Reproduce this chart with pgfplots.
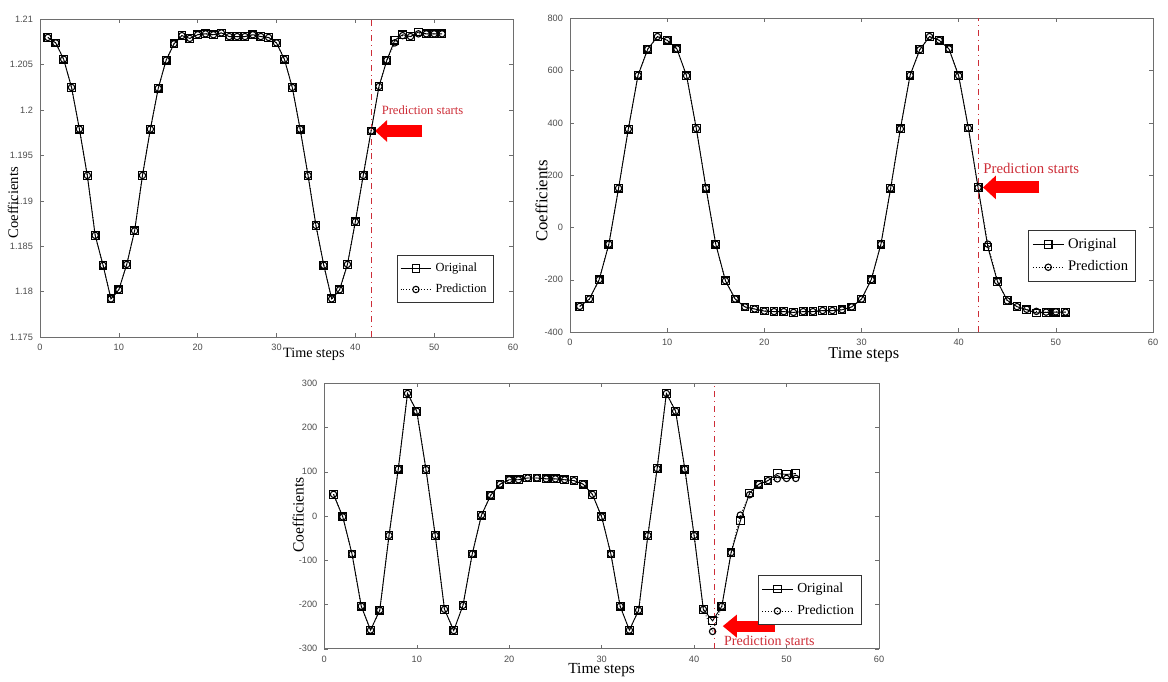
\documentclass[border=0pt]{standalone}
\usepackage{fontspec}
\setmainfont{Liberation Serif}
\newfontfamily\tickfont{Liberation Sans}
\usepackage{pgfplots}
\pgfplotsset{compat=1.18}
\usepackage{pgfplotstable}
\usetikzlibrary{arrows.meta}
\definecolor{predred}{RGB}{205,45,55}
\definecolor{axgray}{RGB}{110,110,110}

% time step, original, prediction
\pgfplotstableread{
t o p
1 1.2080 1.2080
2 1.2074 1.2074
3 1.2056 1.2056
4 1.2025 1.2025
5 1.1979 1.1979
6 1.1928 1.1928
7 1.1862 1.1862
8 1.1829 1.1829
9 1.1792 1.1792
10 1.1802 1.1802
11 1.1830 1.1830
12 1.1867 1.1867
13 1.1928 1.1928
14 1.1979 1.1979
15 1.2024 1.2024
16 1.2055 1.2055
17 1.2073 1.2073
18 1.2082 1.2082
19 1.2079 1.2079
20 1.2083 1.2083
21 1.2084 1.2084
22 1.2083 1.2083
23 1.2085 1.2085
24 1.2081 1.2081
25 1.2081 1.2081
26 1.2081 1.2081
27 1.2083 1.2083
28 1.2081 1.2081
29 1.2080 1.2080
30 1.2074 1.2074
31 1.2056 1.2056
32 1.2025 1.2025
33 1.1979 1.1979
34 1.1928 1.1928
35 1.1873 1.1873
36 1.1829 1.1829
37 1.1792 1.1792
38 1.1802 1.1802
39 1.1830 1.1830
40 1.1877 1.1877
41 1.1928 1.1928
42 1.1977 1.1977
43 1.2026 1.2026
44 1.2055 1.2055
45 1.2077 1.2074
46 1.2083 1.2082
47 1.2081 1.2081
48 1.2086 1.2084
49 1.2084 1.2084
50 1.2084 1.2084
51 1.2084 1.2084
}\dataA

\pgfplotstableread{
t o p
1 -302 -302
2 -274 -274
3 -200 -200
4 -64 -64
5 150 150
6 376 376
7 582 582
8 682 682
9 730 730
10 716 716
11 683 683
12 580 580
13 378 378
14 150 150
15 -64 -64
16 -204 -204
17 -274 -274
18 -304 -304
19 -312 -312
20 -320 -320
21 -322 -322
22 -322 -322
23 -325 -325
24 -322 -322
25 -322 -322
26 -318 -318
27 -318 -318
28 -315 -315
29 -304 -304
30 -274 -274
31 -200 -200
32 -64 -64
33 150 150
34 377 377
35 582 582
36 680 680
37 730 730
38 716 716
39 683 683
40 580 580
41 380 380
42 152 152
43 -75 -64
44 -208 -206
45 -279 -281
46 -303 -303
47 -315 -313
48 -327 -321
49 -325 -324
50 -324 -323
51 -324 -324
}\dataB

\pgfplotstableread{
t o p
1 49 49
2 -2 -2
3 -86 -86
4 -204 -204
5 -258 -258
6 -213 -213
7 -44 -44
8 106 106
9 277 277
10 237 237
11 105 105
12 -44 -44
13 -211 -211
14 -259 -259
15 -202 -202
16 -86 -86
17 2 2
18 47 47
19 72 72
20 82 82
21 82 82
22 86 86
23 86 86
24 84 84
25 84 84
26 82 82
27 80 80
28 72 72
29 49 49
30 -2 -2
31 -86 -86
32 -204 -204
33 -258 -258
34 -213 -213
35 -44 -44
36 107 107
37 277 277
38 237 237
39 106 106
40 -44 -44
41 -211 -211
42 -237 -261
43 -204 -204
44 -83 -83
45 -11 2
46 52 48
47 72 72
48 80 80
49 96 84
50 94 85
51 96 85
}\dataC

\pgfplotsset{
  mstyle/.style={
    scale only axis, xmin=0, xmax=60, xtick={0,10,...,60},
    axis line style={axgray}, tick style={axgray}, major tick length=2pt,
    minor tick num=0,
    tick label style={font=\tickfont\fontsize{4.6pt}{5.5pt}\selectfont, text=black!70},
    /pgf/number format/assume math mode=true,
    legend cell align=left,
    legend image code/.code={\draw[mark repeat=2,mark phase=2] plot coordinates {(0cm,0cm) (0.27cm,0cm) (0.54cm,0cm)};},
    xlabel={Time steps}, ylabel={Coefficients},
    label style={inner sep=0pt},
  },
  orig/.style={black, line width=0.45pt, mark=square, mark size=1.9pt, mark options={solid, line width=0.6pt}},
  pred/.style={black, densely dotted, line width=0.45pt, mark=o, mark size=1.6pt, mark options={solid, line width=0.55pt}},
}

\begin{document}
\begin{tikzpicture}
\useasboundingbox (0,0) rectangle (584pt,340.5pt);

% top left
\begin{axis}[mstyle, at={(20pt,172pt)}, anchor=south west,
  width=236.5pt, height=158.85pt,
  ymin=1.175, ymax=1.21, ytick={1.175,1.18,...,1.2101},
  yticklabel style={/pgf/number format/.cd, fixed, precision=3},
  xlabel style={font=\fontsize{7.1pt}{8pt}\selectfont, at={(axis description cs:0.579,0)}, anchor=north, yshift=-5.4pt},
  ylabel style={font=\fontsize{7.3pt}{8pt}\selectfont, at={(axis description cs:-0.057,0.423)}, anchor=center},
  legend style={draw=black!80, font=\fontsize{6.2pt}{7.4pt}\selectfont, at={(0.96,0.108)}, anchor=south east, inner sep=1.5pt, row sep=0.6pt},
]
\addplot[orig] table[x=t, y=o] {\dataA};
\addplot[pred] table[x=t, y=p] {\dataA};
\legend{Original, Prediction}
\draw[predred, dash dot, line width=0.4pt] (axis cs:42,1.175) -- (axis cs:42,1.21);
\draw[red, line width=6pt, -{Triangle[length=6pt,width=10.5pt]}] (axis cs:48.5,1.1977) -- (axis cs:42.5,1.1977);
\node[anchor=west, text=predred, inner sep=0pt, font=\fontsize{6.3pt}{7pt}\selectfont] at (axis cs:43.3,1.2000) {Prediction starts};
\node[anchor=south west, inner sep=0pt, text=black!70, font=\tickfont\fontsize{3.6pt}{4pt}\selectfont] at (axis description cs:0,1) [yshift=1.5pt] {x 10\textsuperscript{4}};
\end{axis}

% top right
\begin{axis}[mstyle, at={(285pt,174.5pt)}, anchor=south west,
  width=291.5pt, height=156.85pt,
  ymin=-400, ymax=800, ytick={-400,-200,...,800},
  xlabel style={font=\fontsize{8.2pt}{9pt}\selectfont, at={(axis description cs:0.504,0)}, anchor=north, yshift=-7.6pt},
  ylabel style={font=\fontsize{8.4pt}{9pt}\selectfont, at={(axis description cs:-0.0487,0.418)}, anchor=center},
  legend style={draw=black!80, font=\fontsize{7.3pt}{8.6pt}\selectfont, at={(0.971,0.16)}, anchor=south east, inner sep=1.8pt, row sep=0.8pt},
]
\addplot[orig] table[x=t, y=o] {\dataB};
\addplot[pred] table[x=t, y=p] {\dataB};
\legend{Original, Prediction}
\draw[predred, dash dot, line width=0.4pt] (axis cs:42,-400) -- (axis cs:42,800);
\draw[red, line width=6pt, -{Triangle[length=6.5pt,width=11.5pt]}] (axis cs:48.3,153) -- (axis cs:42.5,153);
\node[anchor=west, text=predred, inner sep=0pt, font=\fontsize{7.4pt}{8pt}\selectfont] at (axis cs:42.5,224) {Prediction starts};
\end{axis}

% bottom
\begin{axis}[mstyle, at={(162.15pt,16.15pt)}, anchor=south west,
  width=277.35pt, height=132.7pt,
  ymin=-300, ymax=300, ytick={-300,-200,...,300},
  xlabel style={font=\fontsize{7.7pt}{8.5pt}\selectfont, at={(axis description cs:0.5,0)}, anchor=north, yshift=-7.3pt},
  ylabel style={font=\fontsize{7.8pt}{8.5pt}\selectfont, at={(axis description cs:-0.0469,0.504)}, anchor=center},
  legend style={draw=black!80, font=\fontsize{6.9pt}{8.2pt}\selectfont, at={(0.969,0.089)}, anchor=south east, inner sep=1.7pt, row sep=0.7pt},
]
\addplot[orig] table[x=t, y=o] {\dataC};
\addplot[pred] table[x=t, y=p] {\dataC};
\legend{Original, Prediction}
\draw[predred, dash dot, line width=0.4pt] (axis cs:42.2,-300) -- (axis cs:42.2,300);
\draw[red, line width=5.5pt, -{Triangle[length=7pt,width=11pt]}] (axis cs:48.7,-249) -- (axis cs:43.1,-249);
\node[anchor=west, text=predred, inner sep=0pt, font=\fontsize{7pt}{8pt}\selectfont] at (axis cs:43.2,-282.7) {Prediction starts};
\end{axis}
\end{tikzpicture}
\end{document}
